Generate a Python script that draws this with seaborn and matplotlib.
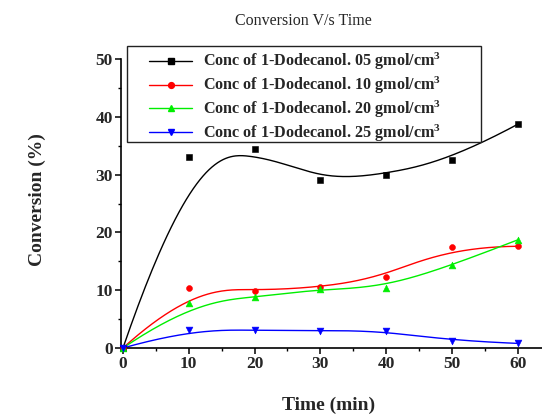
import numpy as np
import matplotlib
matplotlib.use("Agg")
import matplotlib.pyplot as plt
from matplotlib.lines import Line2D
from matplotlib.patches import Rectangle
from matplotlib.ticker import MultipleLocator
import seaborn as sns

time_min = [0, 10, 20, 30, 40, 50, 60]
conv_05 = [0, 33.1, 34.4, 29.0, 30.0, 32.6, 38.7]
conv_10 = [0, 10.3, 9.9, 10.5, 12.3, 17.5, 17.6]
conv_20 = [0, 7.7, 8.8, 10.2, 10.4, 14.3, 18.7]
conv_25 = [0, 3.2, 3.05, 3.0, 3.0, 1.25, 0.8]

labels = ["Conc of 1-Dodecanol. 05 gmol/cm$^{\\mathbf{3}}$",
          "Conc of 1-Dodecanol. 10 gmol/cm$^{\\mathbf{3}}$",
          "Conc of 1-Dodecanol. 20 gmol/cm$^{\\mathbf{3}}$",
          "Conc of 1-Dodecanol. 25 gmol/cm$^{\\mathbf{3}}$"]
colors = ["#000000", "#FF0000", "#00EE00", "#0000FF"]
markers = ["s", "o", "^", "v"]
marker_area = [15, 18, 24, 24]
series = [conv_05, conv_10, conv_20, conv_25]


def bspline(xs, ys, n=300):
    """Clamped uniform cubic B-spline using the data points as control points."""
    P = np.column_stack([xs, ys]).astype(float)
    m = len(P)
    k = 3
    nseg = m - k
    knots = np.concatenate([np.zeros(k), np.arange(nseg + 1), np.full(k, nseg)]).astype(float)
    t = np.linspace(0, nseg - 1e-9, n)

    def N(i, p, tt):
        if p == 0:
            return np.where((knots[i] <= tt) & (tt < knots[i + 1]), 1.0, 0.0)
        a = np.zeros_like(tt)
        b = np.zeros_like(tt)
        d1 = knots[i + p] - knots[i]
        d2 = knots[i + p + 1] - knots[i + 1]
        if d1 > 0:
            a = (tt - knots[i]) / d1 * N(i, p - 1, tt)
        if d2 > 0:
            b = (knots[i + p + 1] - tt) / d2 * N(i + 1, p - 1, tt)
        return a + b

    B = np.array([N(i, k, t) for i in range(m)])
    curve = B.T @ P
    curve = np.vstack([curve, P[-1]])
    return curve[:, 0], curve[:, 1]


sns.set_style("ticks")
plt.rcParams["font.family"] = ["Liberation Serif", "DejaVu Serif"]
plt.rcParams["mathtext.fontset"] = "custom"
plt.rcParams["mathtext.rm"] = "Liberation Serif:bold"
plt.rcParams["mathtext.bf"] = "Liberation Serif:bold"
plt.rcParams["mathtext.it"] = "Liberation Serif:bold"

W, H = 542, 415
fig = plt.figure(figsize=(W / 100, H / 100), dpi=100)
ax = fig.add_axes([121 / W, 1 - 348 / H, 1 - 121 / W, (348 - 59) / H])

for ys, c, mk, sa in zip(series, colors, markers, marker_area):
    cx, cy = bspline(time_min, ys)
    sns.lineplot(x=cx, y=cy, ax=ax, color=c, linewidth=1.0, sort=False,
                 estimator=None, legend=False)
    sns.scatterplot(x=time_min, y=ys, ax=ax, color=c, marker=mk, s=sa,
                    edgecolor=c, linewidth=0.4, legend=False, zorder=5)
for coll in ax.collections:
    coll.set_clip_on(False)

ax.set_xlim(-0.3, 63.7)
ax.set_ylim(0, 50)
ax.set_xlabel("")
ax.set_ylabel("")
ax.xaxis.set_major_locator(MultipleLocator(10))
ax.xaxis.set_minor_locator(MultipleLocator(5))
ax.yaxis.set_major_locator(MultipleLocator(10))
ax.yaxis.set_minor_locator(MultipleLocator(5))
for s in ["top", "right"]:
    ax.spines[s].set_visible(False)
for s in ["left", "bottom"]:
    ax.spines[s].set_linewidth(1.2)
    ax.spines[s].set_color("black")
ax.tick_params(which="major", direction="out", length=4, width=1.1, color="black",
               labelsize=12.5, pad=2)
ax.tick_params(which="minor", direction="out", length=2.5, width=1.0, color="black")
for lab in ax.get_xticklabels() + ax.get_yticklabels():
    lab.set_fontweight("bold")

fig.text(329 / W, 1 - 405 / H, "Time (min)", ha="center", va="center",
         fontsize=14, fontweight="bold")
fig.text(37 / W, 1 - 200 / H, "Conversion (%)", ha="center", va="center",
         fontsize=14, fontweight="bold", rotation=90)
fig.text(303 / W, 1 - 21 / H, "Conversion V/s Time", ha="center", va="center",
         fontsize=11.5)

# legend frame (Origin-style box with wide right margin)
ax.add_patch(Rectangle((127 / W, 1 - 142 / H), (481 - 127) / W, (142 - 46) / H,
                       transform=fig.transFigure, facecolor="white",
                       edgecolor="#222222", linewidth=1.0, clip_on=False, zorder=6))

handles = [Line2D([0], [0], color=c, marker=mk, markersize=4.2, linewidth=1.0)
           for c, mk in zip(colors, markers)]
leg = ax.legend(handles, labels, loc="upper left",
                bbox_to_anchor=(149 / W, 1 - 51 / H), bbox_transform=fig.transFigure,
                prop={"family": "Liberation Serif", "weight": "bold", "size": 11.6},
                frameon=False, handlelength=2.67, handletextpad=0.68,
                labelspacing=0.16, borderpad=0, borderaxespad=0)
leg.set_zorder(7)

fig.savefig("out.png", dpi=100)
